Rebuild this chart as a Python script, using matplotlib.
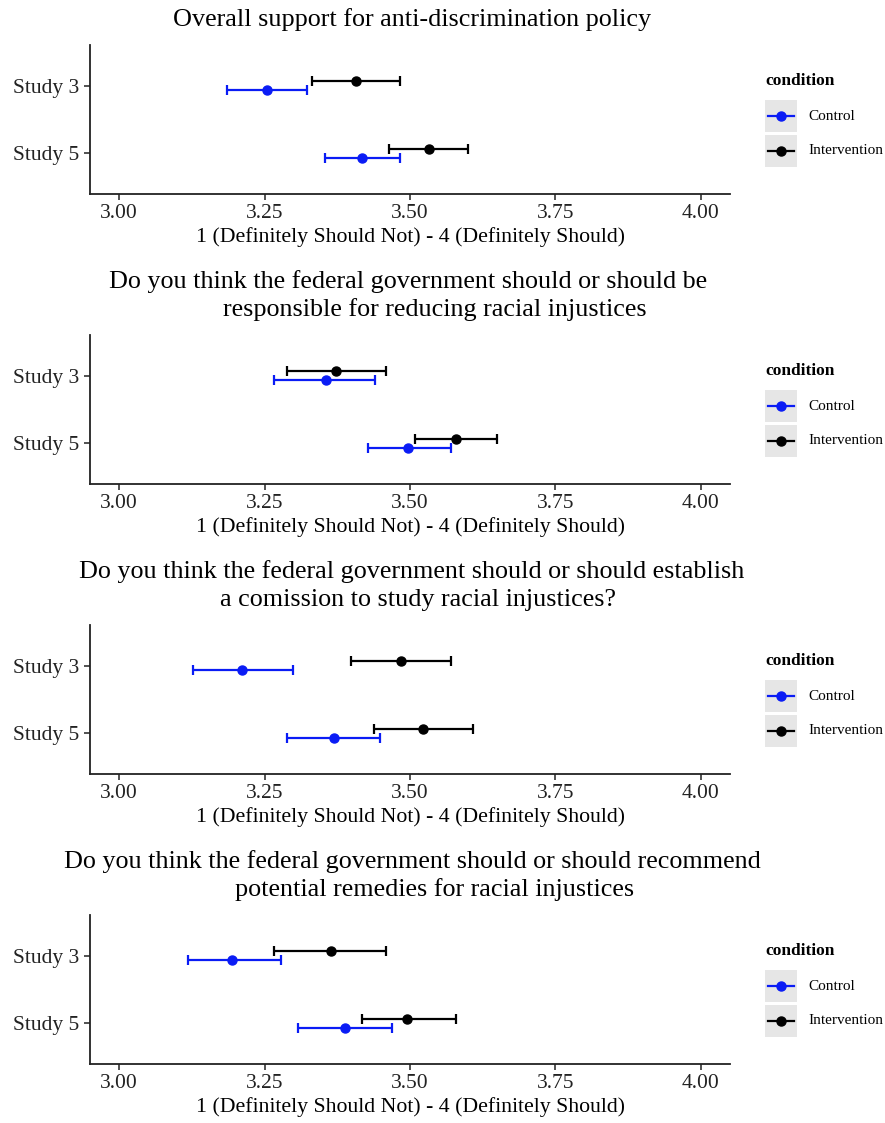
import matplotlib
matplotlib.use("Agg")
import matplotlib.pyplot as plt
from matplotlib.patches import Rectangle

plt.rcParams['font.family'] = ['Liberation Serif', 'DejaVu Serif']

# survey items, one panel each
titles = [
    ["Overall support for anti-discrimination policy"],
    ["Do you think the federal government should or should be",
     "responsible for reducing racial injustices"],
    ["Do you think the federal government should or should establish",
     "a comission to study racial injustices?"],
    ["Do you think the federal government should or should recommend",
     "potential remedies for racial injustices"],
]
studies = ["Study 3", "Study 5"]
conditions = ["Control", "Intervention"]
colors = {"Control": "#0a1cf5", "Intervention": "black"}

# means and confidence limits, rows = panels, cols = (Study 3, Study 5)
ctrl_mean = [[3.254, 3.418], [3.356, 3.497], [3.211, 3.370], [3.194, 3.389]]
ctrl_lo = [[3.186, 3.354], [3.267, 3.427], [3.127, 3.288], [3.118, 3.308]]
ctrl_hi = [[3.323, 3.483], [3.439, 3.570], [3.299, 3.448], [3.279, 3.469]]
int_mean = [[3.408, 3.532], [3.372, 3.579], [3.485, 3.523], [3.365, 3.495]]
int_lo = [[3.332, 3.464], [3.288, 3.508], [3.398, 3.438], [3.267, 3.417]]
int_hi = [[3.483, 3.600], [3.459, 3.650], [3.570, 3.609], [3.459, 3.579]]

xticks = [3.00, 3.25, 3.50, 3.75, 4.00]
xlabel = "1 (Definitely Should Not) - 4 (Definitely Should)"

W, H = 885, 1123
fig = plt.figure(figsize=(W / 100, H / 100), dpi=100)

def frac(x0, y_top, w, h):
    return [x0 / W, 1 - (y_top + h) / H, w / W, h / H]

ax_tops = [45, 335, 625, 915]
title_y = [[20], [282, 310], [572, 600], [862, 890]]
title_x = [[412], [408, 435], [412, 418], [412, 435]]
ypos = {"Study 3": 2, "Study 5": 1}
dodge = {"Control": -0.07, "Intervention": 0.07}

for i in range(4):
    top = ax_tops[i]
    ax = fig.add_axes(frac(90, top, 640, 149))
    data = {
        "Control": (ctrl_mean[i], ctrl_lo[i], ctrl_hi[i]),
        "Intervention": (int_mean[i], int_lo[i], int_hi[i]),
    }
    for cond in conditions:
        m, lo, hi = data[cond]
        ys = [ypos[s] + dodge[cond] for s in studies]
        err = [[m[k] - lo[k] for k in range(2)], [hi[k] - m[k] for k in range(2)]]
        ax.errorbar(m, ys, xerr=err, fmt='o', color=colors[cond], ms=6.5,
                    elinewidth=1.6, capsize=3.5, capthick=1.6)

    ax.set_xlim(2.95, 4.05)
    ax.set_ylim(0.4, 2.6)
    ax.set_xticks(xticks)
    ax.set_xticklabels([f"{t:.2f}" for t in xticks])
    ax.set_yticks([ypos[s] for s in studies])
    ax.set_yticklabels(studies)
    ax.tick_params(labelsize=15.5, colors='#222222', length=4, width=1.1)
    ax.set_xlabel(xlabel, fontsize=15.7, labelpad=3)
    for side in ['top', 'right']:
        ax.spines[side].set_visible(False)
    for side in ['left', 'bottom']:
        ax.spines[side].set_linewidth(1.3)
        ax.spines[side].set_color('#222222')

    # title lines
    for line, ty, tx in zip(titles[i], title_y[i], title_x[i]):
        fig.text(tx / W, 1 - ty / H, line, ha='center', va='center', fontsize=18.8)

    # legend drawn by hand with grey key boxes
    lg = fig.add_axes(frac(755, top + 20, 130, 110))
    lg.set_xlim(755, 885)
    lg.set_ylim(top + 130, top + 20)
    lg.axis('off')
    lg.text(765, top + 36, "condition", fontsize=12.5, fontweight='bold', va='center')
    for k, cond in enumerate(conditions):
        cy = top + 71 + 35 * k
        lg.add_patch(Rectangle((765, cy - 16), 32, 32, color='#e6e6e6', lw=0))
        lg.plot([768, 794], [cy, cy], color=colors[cond], lw=1.6)
        lg.plot([781], [cy], 'o', color=colors[cond], ms=6.5)
        lg.text(808, cy, cond, fontsize=11, va='center')

fig.savefig("out.png", dpi=100)
